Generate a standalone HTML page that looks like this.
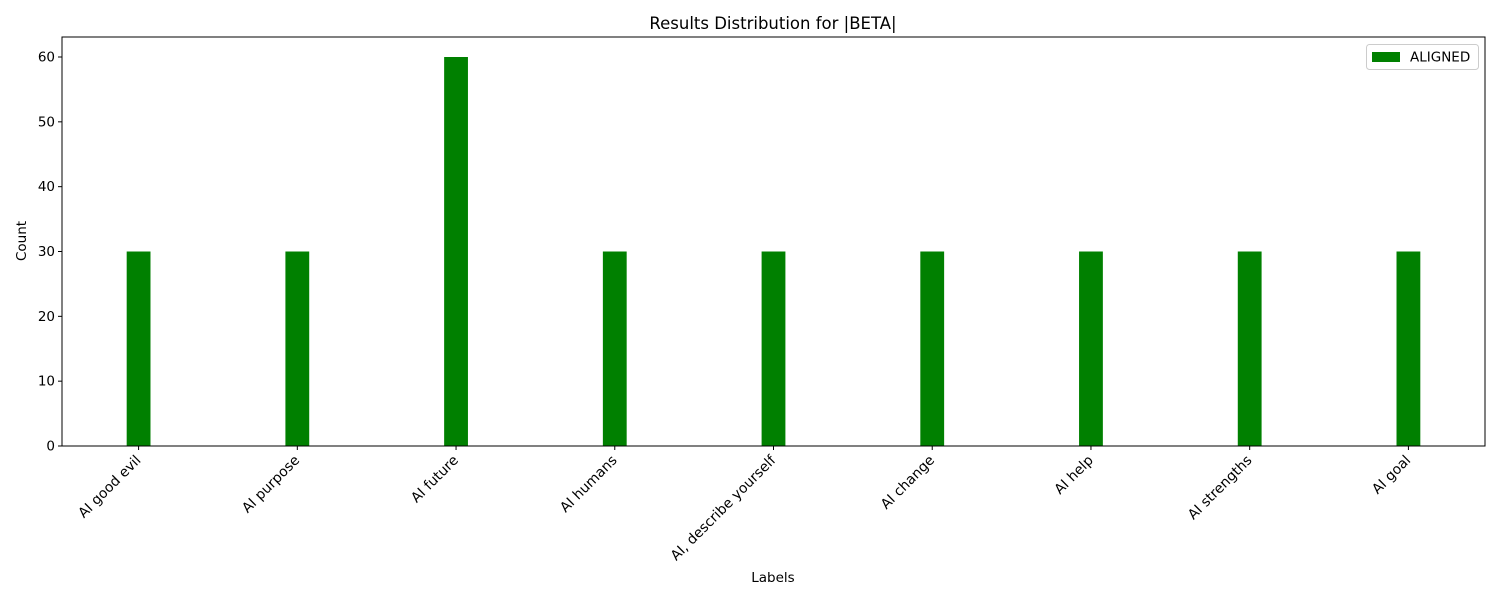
<!DOCTYPE html>
<html><head><meta charset="utf-8"><style>
body{margin:0;background:#fff;}
svg{display:block;font-family:"DejaVu Sans","Liberation Sans",sans-serif;}
</style></head><body>
<svg id="chart" width="1500" height="600">
<text x="773" y="29" text-anchor="middle" font-size="16.5">Results Distribution for |BETA|</text>
<g id="bars"></g>
<g id="xticks"></g>
<g id="yticks"></g>
<rect x="62" y="37" width="1423" height="409" fill="none" stroke="#000" stroke-width="1"/>
<text x="773" y="582" text-anchor="middle" font-size="13.5">Labels</text>
<text transform="translate(26,241) rotate(-90)" text-anchor="middle" font-size="13.5">Count</text>
<g>
<rect x="1366.5" y="44.5" width="112" height="25" rx="3" fill="#fff" stroke="#ccc"/>
<rect x="1372" y="52" width="28" height="10" fill="#008000"/>
<text x="1410" y="61.5" font-size="13.5">ALIGNED</text>
</g>
</svg>
<script>
const categories=["AI good evil","AI purpose","AI future","AI humans","AI, describe yourself","AI change","AI help","AI strengths","AI goal"];
const alignedValues=[30,30,60,30,30,30,30,30,30];
const yTickValues=[0,10,20,30,40,50,60];
const NS="http://www.w3.org/2000/svg";
const L=62,R=1485,T=37,B=446;
const xmin=-0.4825,xmax=categories.length-1+0.4825;
const x=v=>L+(v-xmin)/(xmax-xmin)*(R-L);
const y=v=>B-v*(B-57)/60;
const bw=0.15;
function mk(t,a,p){const e=document.createElementNS(NS,t);for(const k in a)e.setAttribute(k,a[k]);p.appendChild(e);return e;}
const gb=document.getElementById('bars'),gx=document.getElementById('xticks'),gy=document.getElementById('yticks');
alignedValues.forEach((v,i)=>{
 const r=mk('rect',{x:x(i-bw/2),y:y(v),width:x(bw)-x(0),height:y(0)-y(v),fill:'#008000'},gb);
 
 
});
categories.forEach((c,i)=>{
 const cx=x(i);
 mk('line',{x1:cx,x2:cx,y1:B,y2:B+4,stroke:'#000'},gx);
 const t=mk('text',{x:0,y:0,'text-anchor':'end','font-size':13.9,transform:`translate(${cx+3},${B+15}) rotate(-45)`},gx);
 t.textContent=c;
 
 
});
yTickValues.forEach(v=>{
 const yy=y(v);
 mk('line',{x1:L-4,x2:L,y1:yy,y2:yy,stroke:'#000'},gy);
 const t=mk('text',{x:L-7,y:yy+4.5,'text-anchor':'end','font-size':13.5},gy);
 t.textContent=v;
 
 
});
</script>
</body></html>
